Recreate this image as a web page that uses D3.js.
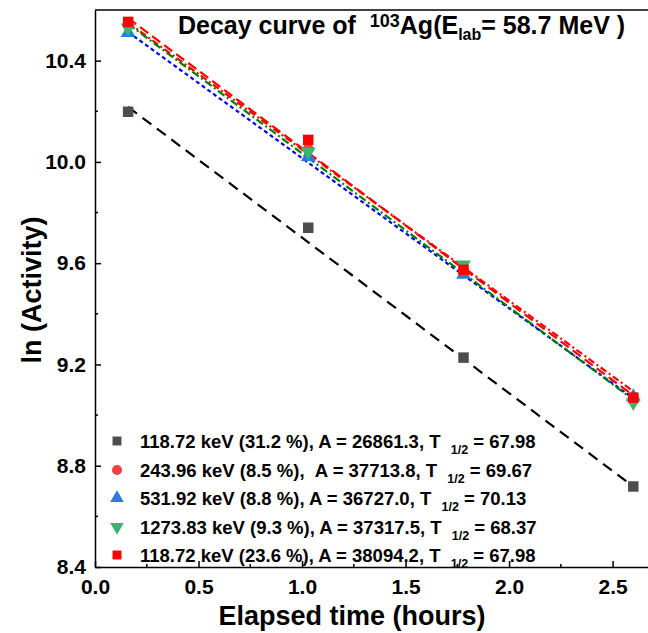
<!DOCTYPE html>
<html lang="en">
<head>
    <meta charset="UTF-8">
    <title>Decay curve</title>
    <script src="https://d3js.org/d3.v7.min.js"></script>
</head>
<style>
    body { margin: 0; background: white; }
    text { font-family: Arial, "Liberation Sans", sans-serif; font-weight: bold; }
</style>
<body>
<svg id="main" width="648" height="633"></svg>
<script>
    // elapsed time (hours) of each measurement
    const times = [0.16, 1.03, 1.78, 2.60];

    // ln(activity) per gamma line
    const g118a = [10.198, 9.740, 9.227, 8.718];
    const g244 = [10.540, 10.050, 9.570, 9.070];
    const g532 = [10.510, 10.020, 9.555, 9.072];
    const g1274 = [10.530, 10.040, 9.594, 9.050];
    const g118b = [10.553, 10.087, 9.574, 9.069];

    // fitted lines, value at first and last time
    const fitStart = [10.217, 10.550, 10.513, 10.545, 10.568];
    const fitEnd = [8.718, 9.094, 9.066, 9.061, 9.077];

    const energies = ['118.72', '243.96', '531.92', '1273.83', '118.72'];
    const intens = ['31.2', '8.5', '8.8', '9.3', '23.6'];
    const amps = ['26861.3', '37713.8', '36727.0', '37317.5', '38094.2'];
    const halfs = ['67.98', '69.67', '70.13', '68.37', '67.98'];

    const xTicks = [0.0, 0.5, 1.0, 1.5, 2.0, 2.5];
    const yTicks = [8.4, 8.8, 9.2, 9.6, 10.0, 10.4];

    const series = [g118a, g244, g532, g1274, g118b];
    const markerColors = ['#4d4d4d', '#f04040', '#2a7ae2', '#3cb371', '#ff0000'];
    const markerShapes = [d3.symbolSquare, d3.symbolCircle, d3.symbolTriangle, d3.symbolTriangle, d3.symbolSquare];
    const markerRot = [0, 0, 0, 180, 0];
    const lineColors = ['#000000', '#ff0000', '#0000ff', '#008000', '#ff0000'];
    const lineDash = ['11,7', '7,3,2,3', '4,3', '8,3,2,3', '10,5'];

    let svg = d3.select('svg#main');
    let mLeft = 95, mRight = 654, mTop = 10, mBottom = 567;

    let x = d3.scaleLinear().domain([0, 2.7]).range([mLeft, mRight]);
    let y = d3.scaleLinear().domain([8.4, 10.6]).range([mBottom, mTop]);

    // frame: top line
    svg.append('line')
        .attr('x1', mLeft).attr('x2', 648)
        .attr('y1', mTop).attr('y2', mTop)
        .attr('stroke', '#000').attr('stroke-width', 1.5);

    // x axis with inward ticks
    let xAxis = d3.axisBottom(x).tickValues(xTicks).tickFormat(d3.format('.1f'))
        .tickSizeInner(-6).tickSizeOuter(0).tickPadding(12);
    let gx = svg.append('g').attr('transform', 'translate(0,' + mBottom + ')').call(xAxis);
    gx.select('.domain').attr('stroke-width', 1.5);
    gx.selectAll('.tick line').attr('stroke-width', 1.5);
    gx.selectAll('.tick text').attr('font-size', 21).attr('font-weight', 'bold')
        .attr('font-family', 'Arial, Liberation Sans').attr('fill', '#000');
    // minor x ticks
    svg.selectAll('.xminor').data(d3.range(0.25, 2.7, 0.5)).enter().append('line')
        .attr('x1', d => x(d)).attr('x2', d => x(d))
        .attr('y1', mBottom).attr('y2', mBottom - 3)
        .attr('stroke', '#000').attr('stroke-width', 1.5);

    let yAxis = d3.axisLeft(y).tickValues(yTicks).tickFormat(d3.format('.1f'))
        .tickSizeInner(-6).tickSizeOuter(0).tickPadding(9);
    let gy = svg.append('g').attr('transform', 'translate(' + mLeft + ',0)').call(yAxis);
    gy.select('.domain').attr('stroke-width', 1.5);
    gy.selectAll('.tick line').attr('stroke-width', 1.5);
    gy.selectAll('.tick text').attr('font-size', 21).attr('font-weight', 'bold')
        .attr('font-family', 'Arial, Liberation Sans').attr('fill', '#000');
    svg.selectAll('.yminor').data(d3.range(8.6, 10.6, 0.4)).enter().append('line')
        .attr('x1', mLeft).attr('x2', mLeft + 3)
        .attr('y1', d => y(d)).attr('y2', d => y(d))
        .attr('stroke', '#000').attr('stroke-width', 1.5);

    // axis titles
    svg.append('text').attr('x', 352).attr('y', 625)
        .attr('text-anchor', 'middle').attr('font-size', 27).text('Elapsed time (hours)');
    svg.append('text').attr('transform', 'translate(41,290) rotate(-90)')
        .attr('text-anchor', 'middle').attr('font-size', 27).text('ln (Activity)');

    // title
    let title = svg.append('text').attr('x', 178).attr('y', 34).attr('font-size', 25);
    title.append('tspan').text('Decay curve of\u00a0\u00a0');
    title.append('tspan').attr('font-size', 18).attr('dy', -7).text('103');
    title.append('tspan').attr('dy', 7).text('Ag(E');
    title.append('tspan').attr('font-size', 16).attr('dy', 6).text('lab');
    title.append('tspan').attr('dy', -6).text('= 58.7 MeV )');

    // fit lines
    let fitLine = d3.line().x(d => x(d[0])).y(d => y(d[1]));
    svg.selectAll('.fit').data(fitStart).enter().append('path')
        .attr('class', 'fit')
        .attr('d', (d, i) => fitLine([[times[0], d], [times[times.length - 1], fitEnd[i]]]))
        .attr('fill', 'none')
        .attr('stroke', (d, i) => lineColors[i])
        .attr('stroke-width', 2.2)
        .attr('stroke-dasharray', (d, i) => lineDash[i]);

    // markers
    series.forEach(function (vals, i) {
        svg.selectAll('.m' + i).data(vals).enter().append('path')
            .attr('class', 'm' + i)
            .attr('d', d3.symbol().type(markerShapes[i]).size(markerShapes[i] === d3.symbolSquare ? 110 : 95))
            .attr('transform', (d, j) => 'translate(' + x(times[j]) + ',' + y(d) + ') rotate(' + markerRot[i] + ')')
            .attr('fill', markerColors[i]);
    });

    // legend
    let rowY = [441, 470, 498, 527, 555];
    let legend = svg.selectAll('.leg').data(energies).enter().append('g')
        .attr('class', 'leg')
        .attr('transform', (d, i) => 'translate(117,' + rowY[i] + ')');
    legend.append('path')
        .attr('d', (d, i) => d3.symbol().type(markerShapes[i]).size(80)())
        .attr('transform', (d, i) => 'rotate(' + markerRot[i] + ')')
        .attr('fill', (d, i) => markerColors[i]);
    let lt = legend.append('text').attr('x', 23).attr('y', 6.5).attr('font-size', 18.5);
    lt.append('tspan').text((d, i) => d + ' keV (' + intens[i] + ' %),' + (i === 1 ? '\u00a0\u00a0' : ' ') + 'A = ' + amps[i] + ', T\u00a0\u00a0');
    lt.append('tspan').attr('font-size', 12.5).attr('dy', 6).text('1/2');
    lt.append('tspan').attr('dy', -6).text((d, i) => ' = ' + halfs[i]);
</script>
</body>
</html>
